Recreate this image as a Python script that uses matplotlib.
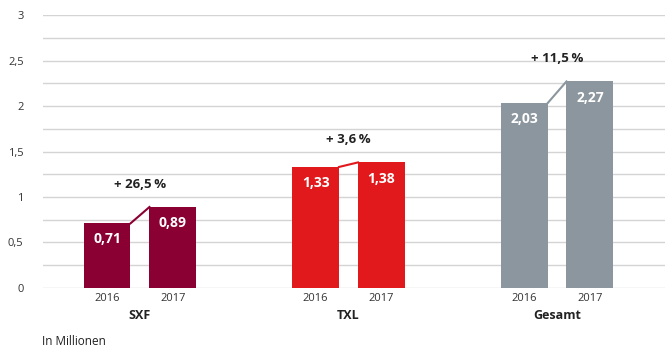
import matplotlib.pyplot as plt
from matplotlib.ticker import MultipleLocator

plt.rcParams['font.family'] = ['Open Sans', 'DejaVu Sans']

groups = ['SXF', 'TXL', 'Gesamt']
years = ['2016', '2017']
values_2016 = [0.71, 1.33, 2.03]
values_2017 = [0.89, 1.38, 2.27]
growth = [26.5, 3.6, 11.5]
colors = ['#8a0033', '#e2191c', '#8b969e']
y_ticks = [0, 0.5, 1, 1.5, 2, 2.5, 3]


def de(v, digits=2):
    return f"{v:.{digits}f}".replace('.', ',')


fig = plt.figure(figsize=(6.65, 3.49), dpi=100)
ax = fig.add_axes([0.0647, 0.1748, 0.9353, 0.7822])

width = 0.225
offset = 0.158

for i, g in enumerate(groups):
    x1, x2 = i - offset, i + offset
    v1, v2 = values_2016[i], values_2017[i]
    ax.bar([x1, x2], [v1, v2], width=width, color=colors[i], zorder=3)
    # connector between the two bar tops
    ax.plot([x1 + width / 2, x2 - width / 2], [v1, v2], color=colors[i], lw=1.5, zorder=3)
    for x, v in [(x1, v1), (x2, v2)]:
        ax.text(x, v - 0.1, de(v), ha='center', va='top', color='white',
                fontsize=10, fontweight='bold', zorder=4)
    ax.text(i, max(v1, v2) + 0.18, f"+ {de(growth[i], 1)}\u2009%", ha='center', va='bottom',
            fontsize=9.5, fontweight='bold', color='#222222')
    ax.text(x1, -0.06, years[0], ha='center', va='top', fontsize=8, color='#333333')
    ax.text(x2, -0.06, years[1], ha='center', va='top', fontsize=8, color='#333333')
    ax.text(i, -0.23, g, ha='center', va='top', fontsize=9, fontweight='bold', color='#222222')

ax.set_xlim(-0.465, 2.518)
ax.set_ylim(0, 3)
ax.set_yticks(y_ticks)
ax.set_yticklabels([de(t, 1).rstrip('0').rstrip(',') for t in y_ticks], fontsize=8, color='#333333')
ax.yaxis.set_minor_locator(MultipleLocator(0.25))
ax.grid(axis='y', which='both', color='#d4d4d4', lw=1, zorder=0)
ax.tick_params(axis='y', which='both', length=0, pad=14)
ax.set_xticks([])
for s in ax.spines.values():
    s.set_visible(False)

fig.text(0.063, 0.012, 'In Millionen', fontsize=8.5, color='#222222')

fig.savefig('out.png', dpi=100)
